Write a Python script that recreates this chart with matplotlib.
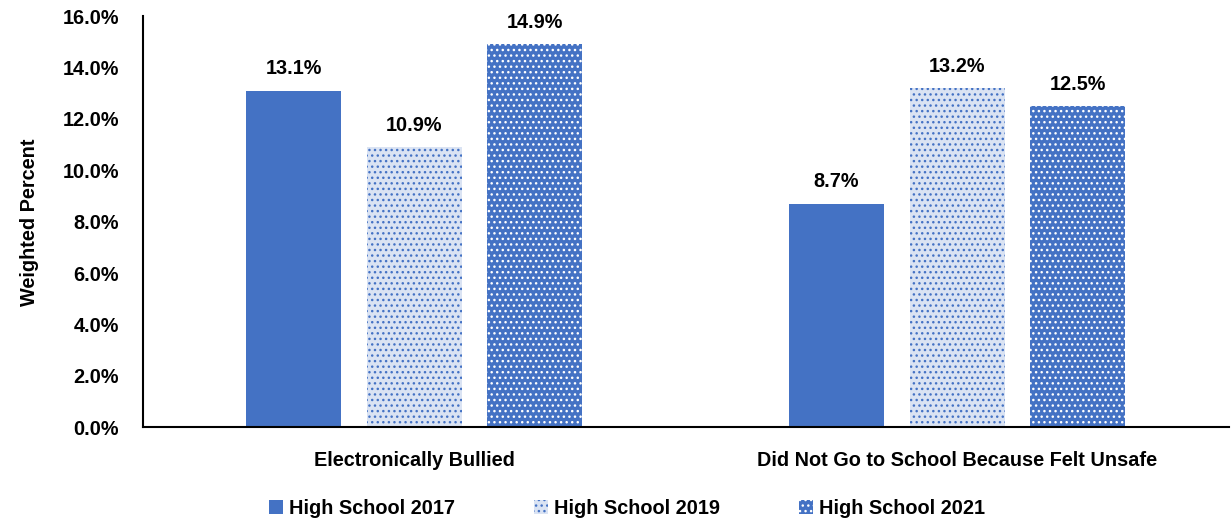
import numpy as np
import matplotlib.pyplot as plt
from matplotlib.patches import Patch

plt.rcParams['font.family'] = ['Liberation Sans', 'DejaVu Sans']
plt.rcParams['font.weight'] = 'bold'
plt.rcParams['hatch.linewidth'] = 1.0

categories = ['Electronically Bullied', 'Did Not Go to School Because Felt Unsafe']
series = ['High School 2017', 'High School 2019', 'High School 2021']
hs2017 = [13.1, 8.7]
hs2019 = [10.9, 13.2]
hs2021 = [14.9, 12.5]
values = [hs2017, hs2019, hs2021]

fills = ['#4472c4', '#dae3f3', '#4472c4']
dots = [None, '#4472c4', '#ffffff']

fs = 14.3

fig = plt.figure(figsize=(12.31, 5.23), dpi=100)
ax = fig.add_axes([0.116, 0.183, 0.882, 0.786])

x = np.arange(len(categories))
w = 0.175
step = 0.222
for i, (name, vals) in enumerate(zip(series, values)):
    pos = x + (i - 1) * step
    ax.bar(pos, vals, w, color=fills[i], linewidth=0, label=name)
    if dots[i]:
        ax.bar(pos, vals, w, facecolor='none', edgecolor=dots[i], linewidth=0, hatch='...')
    for p, v in zip(pos, vals):
        ax.annotate(f'{v:.1f}%', (p, v), xytext=(0, 9), textcoords='offset points',
                    ha='center', va='bottom', fontsize=fs, fontweight='bold')

handles = []
for i, name in enumerate(series):
    if dots[i]:
        handles.append(Patch(facecolor=fills[i], edgecolor=dots[i], linewidth=0, hatch='...', label=name))
    else:
        handles.append(Patch(facecolor=fills[i], linewidth=0, label=name))
ax.legend(handles=handles, loc='upper center', bbox_to_anchor=(0.446, -0.13), ncol=3,
          frameon=False, handlelength=0.7, handleheight=0.7,
          handletextpad=0.3, columnspacing=4.0,
          prop={'weight': 'bold', 'size': fs})

ax.set_xlim(-0.5, 1.5)
ax.set_ylim(0, 16)
ax.set_yticks(np.arange(0, 17, 2))
ax.set_yticklabels([f'{t:.1f}%' for t in np.arange(0, 17, 2)], fontsize=fs, fontweight='bold')
ax.set_xticks(x)
ax.set_xticklabels(categories, fontsize=fs, fontweight='bold')
ax.tick_params(axis='y', length=0, pad=17)
ax.tick_params(axis='x', length=0, pad=17)
ax.set_ylabel('Weighted Percent', fontsize=fs, fontweight='bold', labelpad=17)
for s in ['top', 'right']:
    ax.spines[s].set_visible(False)
for s in ['left', 'bottom']:
    ax.spines[s].set_linewidth(1.5)

fig.savefig('out.png', dpi=100)
